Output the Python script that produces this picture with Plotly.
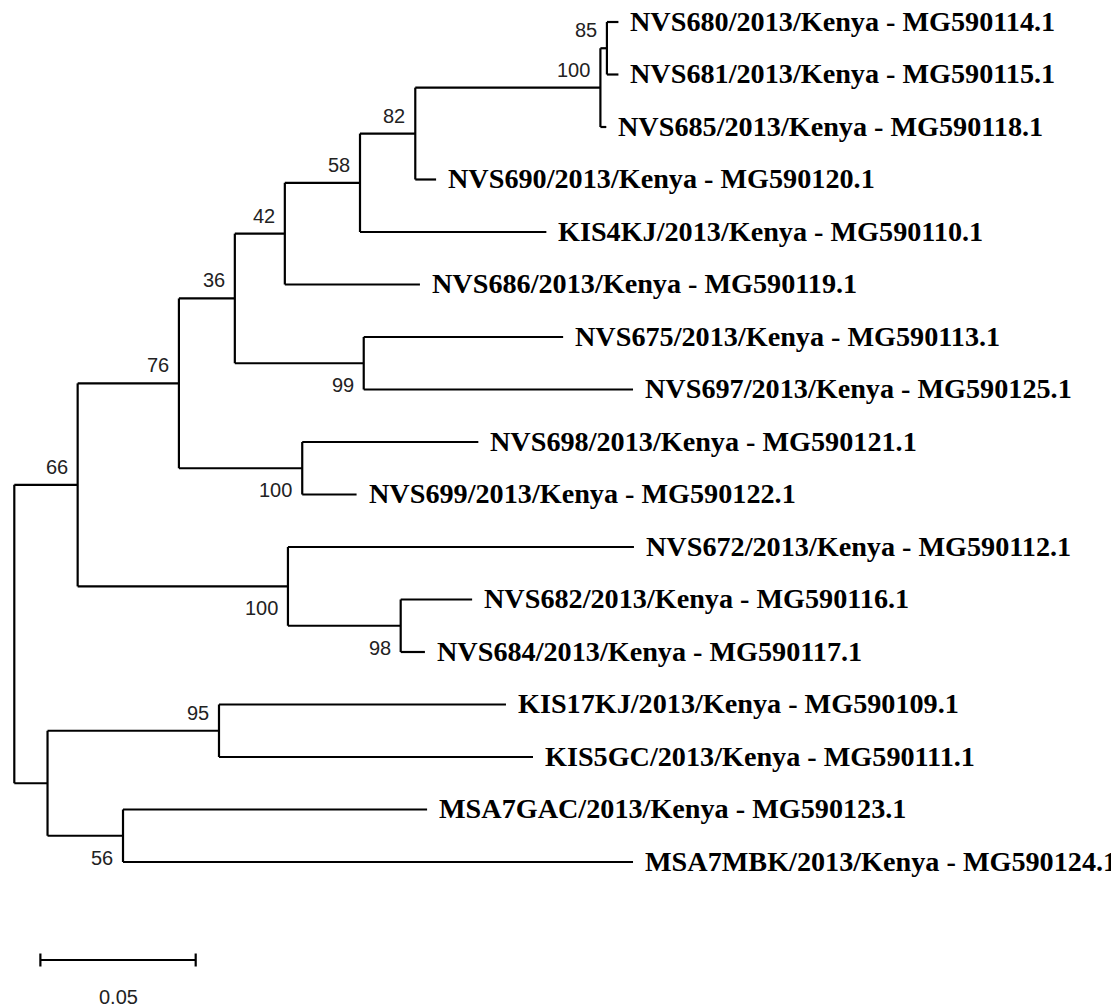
import plotly.graph_objects as go

# ---------------- data ----------------
# tree nodes: name, parent, branch length (substitutions/site), bootstrap
node_names = ["root", "A", "M", "B", "K", "C", "J", "D", "I", "E", "NVS686", "F", "KIS4KJ",
              "G", "NVS690", "H", "NVS685", "NVS680", "NVS681", "NVS675", "NVS697",
              "NVS698", "NVS699", "NVS672", "L", "NVS682", "NVS684", "N", "O",
              "KIS17KJ", "KIS5GC", "MSA7GAC", "MSA7MBK"]
node_parents = [None, "root", "root", "A", "A", "B", "B", "C", "C", "D", "D", "E", "E",
                "F", "F", "G", "G", "H", "H", "I", "I",
                "J", "J", "K", "K", "L", "L", "M", "M",
                "N", "N", "O", "O"]
branch_lengths = [0.0, 0.0204, 0.0107, 0.0326, 0.0677, 0.0180, 0.0397, 0.0161, 0.0415,
                  0.0242, 0.0435, 0.0178, 0.0600, 0.0596, 0.0067, 0.0021, 0.0019,
                  0.0037, 0.0037, 0.0642, 0.0867, 0.0567, 0.0175, 0.1114, 0.0363,
                  0.0230, 0.0078, 0.0552, 0.0243, 0.0924, 0.1011, 0.0979, 0.1642]
bootstrap = {"A": 66, "B": 76, "C": 36, "D": 42, "E": 58, "F": 82, "G": 100, "H": 85,
             "I": 99, "J": 100, "K": 100, "L": 98, "N": 95, "O": 56}

# leaves top to bottom and their tip labels
leaf_order = ["NVS680", "NVS681", "NVS685", "NVS690", "KIS4KJ", "NVS686", "NVS675",
              "NVS697", "NVS698", "NVS699", "NVS672", "NVS682", "NVS684", "KIS17KJ",
              "KIS5GC", "MSA7GAC", "MSA7MBK"]
leaf_labels = ["NVS680/2013/Kenya - MG590114.1", "NVS681/2013/Kenya - MG590115.1",
               "NVS685/2013/Kenya - MG590118.1", "NVS690/2013/Kenya - MG590120.1",
               "KIS4KJ/2013/Kenya - MG590110.1", "NVS686/2013/Kenya - MG590119.1",
               "NVS675/2013/Kenya - MG590113.1", "NVS697/2013/Kenya - MG590125.1",
               "NVS698/2013/Kenya - MG590121.1", "NVS699/2013/Kenya - MG590122.1",
               "NVS672/2013/Kenya - MG590112.1", "NVS682/2013/Kenya - MG590116.1",
               "NVS684/2013/Kenya - MG590117.1", "KIS17KJ/2013/Kenya - MG590109.1",
               "KIS5GC/2013/Kenya - MG590111.1", "MSA7GAC/2013/Kenya - MG590123.1",
               "MSA7MBK/2013/Kenya - MG590124.1"]
scale_bar_length = 0.05
scale_bar_label = "0.05"

# ---------------- layout of tree ----------------
PAGE_OFF = 8          # default body margin of the html page
W, H = 1119 - PAGE_OFF, 1008 - PAGE_OFF
px_per_unit = 3106.0
root_px = 14.3 - PAGE_OFF
row_px = 52.5
top_px = 22.0 - PAGE_OFF

parent = dict(zip(node_names, node_parents))
blen = dict(zip(node_names, branch_lengths))
children = {n: [] for n in node_names}
for n, p in zip(node_names, node_parents):
    if p is not None:
        children[p].append(n)

X = {}
def set_x(n, base):
    X[n] = base + blen[n]
    for c in children[n]:
        set_x(c, X[n])
set_x("root", 0.0)

Y = {n: i for i, n in enumerate(leaf_order)}
def set_y(n):
    if n in Y:
        return Y[n]
    ys = [set_y(c) for c in children[n]]
    Y[n] = (ys[0] + ys[-1]) / 2.0
    return Y[n]
set_y("root")

for n in children:
    children[n].sort(key=lambda c: Y[c])

xs, ys = [], []
for n in node_names:
    p = parent[n]
    if p is None:
        continue
    xs += [X[p], X[n], None]
    ys += [Y[n], Y[n], None]
for n in node_names:
    if children[n]:
        c0, c1 = children[n][0], children[n][-1]
        xs += [X[n], X[n], None]
        ys += [Y[c0], Y[c1], None]

fig = go.Figure()
fig.add_trace(go.Scatter(x=xs, y=ys, mode="lines",
                         line=dict(color="black", width=2.2),
                         hoverinfo="skip", showlegend=False))

annotations = []
for n, lab in zip(leaf_order, leaf_labels):
    annotations.append(dict(x=X[n], y=Y[n], text="<b>" + lab + "</b>", showarrow=False,
                            xanchor="left", yanchor="middle", xshift=10, yshift=1,
                            font=dict(family="Liberation Serif, Times New Roman, serif",
                                      size=28.2, color="black")))

for n, bs in bootstrap.items():
    p = parent[n]
    is_top = children[p][0] == n
    annotations.append(dict(x=X[n], y=Y[n], text=str(bs), showarrow=False,
                            xanchor="right", yanchor="middle", xshift=-8,
                            yshift=(18 if is_top else -22),
                            font=dict(family="Liberation Sans, Arial, sans-serif",
                                      size=20, color="#222222")))

# scale bar
sb_x0 = 0.0084
sb_y = (960 - 22.0) / row_px
tick = 6.5 / row_px
fig.add_trace(go.Scatter(
    x=[sb_x0, sb_x0 + scale_bar_length, None, sb_x0, sb_x0, None,
       sb_x0 + scale_bar_length, sb_x0 + scale_bar_length],
    y=[sb_y, sb_y, None, sb_y - tick, sb_y + tick, None, sb_y - tick, sb_y + tick],
    mode="lines", line=dict(color="black", width=2.2), hoverinfo="skip", showlegend=False))
annotations.append(dict(x=sb_x0 + scale_bar_length / 2, y=(997 - 22.0) / row_px,
                        text=scale_bar_label, showarrow=False, xanchor="center", yanchor="middle",
                        font=dict(family="Liberation Sans, Arial, sans-serif", size=20,
                                  color="#222222")))

fig.update_layout(
    width=W, height=H,
    margin=dict(l=0, r=0, t=0, b=0),
    paper_bgcolor="white", plot_bgcolor="white",
    annotations=annotations,
    xaxis=dict(range=[-root_px / px_per_unit, (W - root_px) / px_per_unit],
               visible=False, fixedrange=True),
    yaxis=dict(range=[(H - top_px) / row_px, -top_px / row_px],
               visible=False, fixedrange=True),
)
fig.write_html("out.html")
